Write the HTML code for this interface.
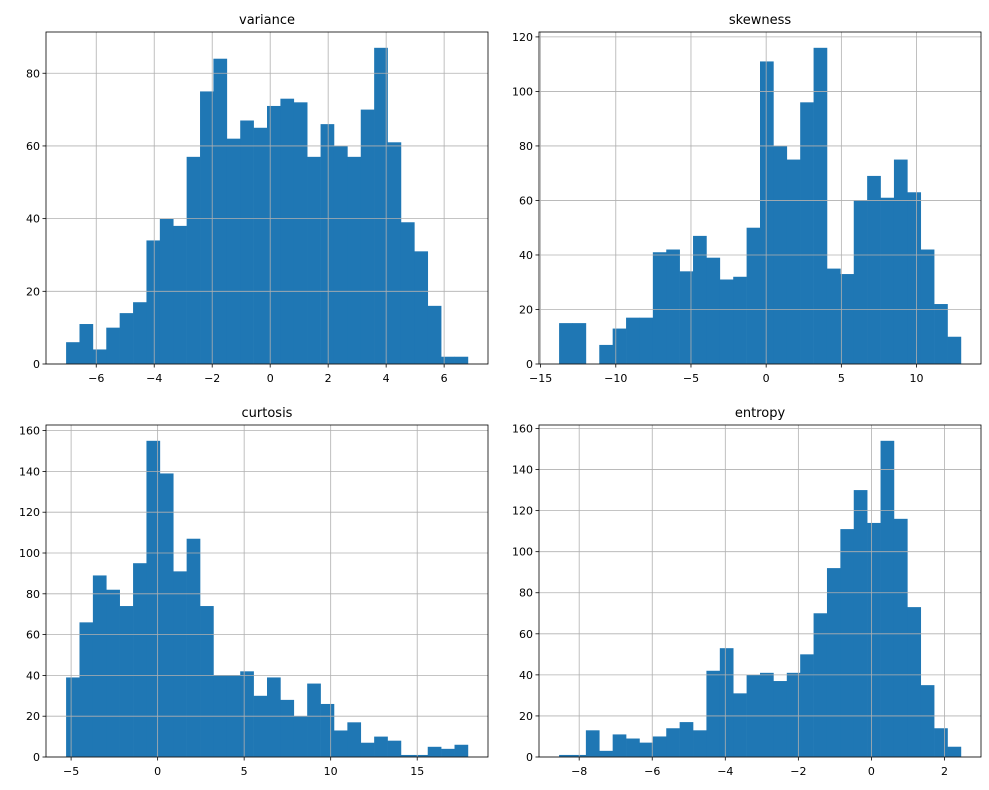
<!DOCTYPE html>
<html><head><meta charset="utf-8"><style>
body{margin:0;background:#fff}
svg{display:block;font-family:"DejaVu Sans","Liberation Sans",sans-serif}
</style></head><body>
<svg id="chart" width="989" height="790"></svg>
<script>
const varianceCounts=[6,11,4,10,14,17,34,40,38,57,75,84,62,67,65,71,73,72,57,66,60,57,70,87,61,39,31,16,2,2];
const skewnessCounts=[15,15,0,7,13,17,17,41,42,34,47,39,31,32,50,111,80,75,96,116,35,33,60,69,61,75,63,42,22,10];
const curtosisCounts=[39,66,89,82,74,95,155,139,91,107,74,40,40,42,30,39,28,20,36,26,13,17,7,10,8,1,1,5,4,6];
const entropyCounts=[1,1,13,3,11,9,7,10,14,17,13,42,53,31,40,41,37,41,50,70,92,111,130,114,154,116,73,35,14,5];
const varianceRange=[-7.04,6.82], skewnessRange=[-13.77,12.95], curtosisRange=[-5.29,17.93], entropyRange=[-8.55,2.45];
const varianceXTicks=[-6,-4,-2,0,2,4,6], skewnessXTicks=[-15,-10,-5,0,5,10], curtosisXTicks=[-5,0,5,10,15], entropyXTicks=[-8,-6,-4,-2,0,2];
const varianceYTicks=[0,20,40,60,80], skewnessYTicks=[0,20,40,60,80,100,120], curtosisYTicks=[0,20,40,60,80,100,120,140,160], entropyYTicks=[0,20,40,60,80,100,120,140,160];

const svg=document.getElementById('chart');const NS='http://www.w3.org/2000/svg';
function mk(t,a,p){const e=document.createElementNS(NS,t);for(const k in a)e.setAttribute(k,a[k]);(p||svg).appendChild(e);return e;}
function panel(name,counts,range,xt,yt,L,T,W,H){
  const g=mk('g',{});
  
  
  const span=range[1]-range[0];const x0=range[0]-span*0.05,x1=range[1]+span*0.05;
  const ymax=Math.max(...counts)*1.05;
  const X=v=>L+(v-x0)/(x1-x0)*W, Y=v=>T+H-v/ymax*H;
  const bw=span/counts.length;
  counts.forEach((c,i)=>{if(!c)return;const a=X(range[0]+i*bw),b=X(range[0]+(i+1)*bw);
    const r=mk('rect',{x:a,y:Y(c),width:b-a+0.3,height:Y(0)-Y(c),fill:'#1f77b4'},g);
    
    });
  xt.forEach(v=>{const x=X(v);mk('line',{x1:x,x2:x,y1:T,y2:T+H,stroke:'#b0b0b0','stroke-width':0.8},g);
    mk('line',{x1:x,x2:x,y1:T+H,y2:T+H+3.5,stroke:'#000','stroke-width':0.8},g);
    const t=mk('text',{x:x,y:T+H+18,'font-size':11,'text-anchor':'middle'},g);t.textContent=String(v).replace('-','\u2212');
    
    });
  yt.forEach(v=>{const y=Y(v);mk('line',{x1:L,x2:L+W,y1:y,y2:y,stroke:'#b0b0b0','stroke-width':0.8},g);
    mk('line',{x1:L-3.5,x2:L,y1:y,y2:y,stroke:'#000','stroke-width':0.8},g);
    const t=mk('text',{x:L-6,y:y+4,'font-size':11,'text-anchor':'end'},g);t.textContent=v;
    
    });
  mk('rect',{x:L,y:T,width:W,height:H,fill:'none',stroke:'#000','stroke-width':0.8},g);
  const tt=mk('text',{x:L+W/2,y:T-8,'font-size':13,'text-anchor':'middle'},g);tt.textContent=name;
  
  
}
panel('variance',varianceCounts,varianceRange,varianceXTicks,varianceYTicks,46,32,442,332);
panel('skewness',skewnessCounts,skewnessRange,skewnessXTicks,skewnessYTicks,539,32,442,332);
panel('curtosis',curtosisCounts,curtosisRange,curtosisXTicks,curtosisYTicks,46,425,442,332);
panel('entropy',entropyCounts,entropyRange,entropyXTicks,entropyYTicks,539,425,442,332);
</script>
</body></html>
